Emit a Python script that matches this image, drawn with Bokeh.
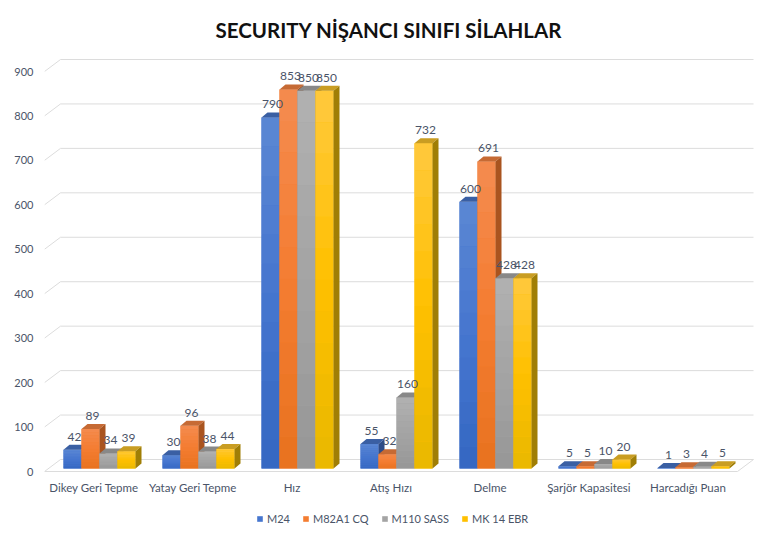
from bokeh.plotting import figure
from bokeh.models import Range1d, FixedTicker, Legend, LegendItem
from bokeh.embed import file_html
from bokeh.resources import INLINE

# veriler
categories = ["Dikey Geri Tepme", "Yatay Geri Tepme", "Hız", "Atış Hızı",
              "Delme", "Şarjör Kapasitesi", "Harcadığı Puan"]
series_names = ["M24", "M82A1 CQ", "M110 SASS", "MK 14 EBR"]
m24 = [42, 30, 790, 55, 600, 5, 1]
m82a1_cq = [89, 96, 853, 32, 691, 5, 3]
m110_sass = [34, 38, 850, 160, 428, 10, 4]
mk14_ebr = [39, 44, 850, 732, 428, 20, 5]
y_ticks = [0, 100, 200, 300, 400, 500, 600, 700, 800, 900]

series = [m24, m82a1_cq, m110_sass, mk14_ebr]

# renkler: on yuz gradyani (ust, orta, alt), ust yuz, yan yuz
grad_top = ["#5b87d3", "#f48b50", "#b1b1b1", "#ffc93e"]
grad_mid = ["#4676cf", "#f47d31", "#a4a4a4", "#ffc000"]
grad_bot = ["#3467c2", "#e8721f", "#979797", "#e9b800"]
top_colors = ["#3a5fa3", "#c66a34", "#888888", "#c99d22"]
side_colors = ["#2e4c88", "#a9541f", "#777777", "#a07e05"]
text_color = "#4a5468"
grid_color = "#dcdcdc"

# 3B geometri (x: kategori birimi, y: deger birimi)
BW = 18 / 99.0          # cubuk genisligi
SHIFT = 5.5 / 99.0      # grup kaymasi
BASE = 6.75             # cubuk tabani
DX, DY = 6 / 99.0, 11.25      # cubuk derinligi
WX, WY = 16 / 99.0, 27.0      # duvar derinligi
X0, X1 = -0.5, len(categories) - 0.5
N_STRIPS = 12


def hex_rgb(h):
    return [int(h[i:i + 2], 16) for i in (1, 3, 5)]


def mix(c1, c2, t):
    a, b = hex_rgb(c1), hex_rgb(c2)
    return "#%02x%02x%02x" % tuple(round(x + (y - x) * t) for x, y in zip(a, b))


def grad(j, t):
    # t: 0 alt, 1 ust
    if t < 0.5:
        return mix(grad_bot[j], grad_mid[j], t / 0.5)
    return mix(grad_mid[j], grad_top[j], (t - 0.5) / 0.5)


p = figure(width=768, height=527, output_backend="svg", toolbar_location=None,
           x_range=Range1d(X0, X0 + 713 / 99.0), y_range=Range1d(-126, 940.5),
           min_border_left=44, min_border_right=11, min_border_top=53,
           min_border_bottom=0)
p.outline_line_color = None
p.xgrid.visible = False
p.ygrid.visible = False
p.xaxis.visible = False
p.background_fill_color = "white"
p.border_fill_color = "white"

p.title.text = "SECURITY NİŞANCI SINIFI SİLAHLAR"
p.title.align = "left"
p.title.offset = 171
p.title.text_font = "Lato"
p.title.text_font_size = "20.5px"
p.title.text_font_style = "bold"
p.title.text_color = "#111111"
p.title.standoff = 24

# izgara: on capraz + arka duvar
for v in y_ticks:
    p.line([X0, X0 + WX, X1 + WX], [v, v + WY, v + WY], line_color=grid_color, line_width=1)
p.line([X0, X1], [0, 0], line_color=grid_color, line_width=1)
p.line([X1, X1 + WX], [0, WY], line_color=grid_color, line_width=1)

legend_items = []
for j, vals in enumerate(series):
    xc = [k + SHIFT + (j - 1.5) * BW for k in range(len(categories))]
    left = [x - BW / 2 for x in xc]
    right = [x + BW / 2 for x in xc]
    tops = [BASE + v for v in vals]
    r = p.quad(left=left, right=right, bottom=BASE, top=tops,
               fill_color=grad_mid[j], line_color=None)
    legend_items.append(LegendItem(label=series_names[j], renderers=[r]))

    # on yuz gradyani: yatay seritler
    sl, sr, sb, st, sc = [], [], [], [], []
    for l, rr, t in zip(left, right, tops):
        h = (t - BASE) / N_STRIPS
        for i in range(N_STRIPS):
            sl.append(l)
            sr.append(rr)
            sb.append(BASE + i * h)
            st.append(BASE + (i + 1) * h)
            sc.append(grad(j, (i + 0.5) / N_STRIPS))
    p.quad(left=sl, right=sr, bottom=sb, top=st, fill_color=sc, line_color=None)

    top_xs = [[l, rr, rr + DX, l + DX] for l, rr in zip(left, right)]
    top_ys = [[t, t, t + DY, t + DY] for t in tops]
    p.patches(top_xs, top_ys, fill_color=top_colors[j], line_color=None)
    side_xs = [[rr, rr + DX, rr + DX, rr] for rr in right]
    side_ys = [[BASE, BASE + DY, t + DY, t] for t in tops]
    p.patches(side_xs, side_ys, fill_color=side_colors[j], line_color=None)

# deger etiketleri
for j, vals in enumerate(series):
    xc = [k + SHIFT + (j - 1.5) * BW + DX / 3 for k in range(len(categories))]
    p.text(x=xc, y=[BASE + v + DY + 18 for v in vals], text=[str(v) for v in vals],
           text_align="center", text_baseline="middle", text_font_size="12px",
           text_color=text_color, text_font={"value": "Lato"})

# kategori etiketleri
p.text(x=list(range(len(categories))), y=[-36] * len(categories), text=categories,
       text_align="center", text_baseline="middle", text_font_size="11.5px",
       text_color=text_color, text_font={"value": "Lato"})

p.yaxis.ticker = FixedTicker(ticks=y_ticks)
p.yaxis.axis_line_color = None
p.yaxis.major_tick_line_color = None
p.yaxis.major_tick_out = 0
p.yaxis.minor_tick_line_color = None
p.yaxis.major_label_standoff = 11
p.yaxis.major_label_text_font = "Lato"
p.yaxis.major_label_text_font_size = "11px"
p.yaxis.major_label_text_color = text_color

legend = Legend(items=legend_items, orientation="horizontal", location=(212, 2),
                margin=0, padding=4, spacing=12, label_standoff=4,
                glyph_width=7, glyph_height=7, border_line_color=None,
                background_fill_alpha=0,
                label_text_font="Lato", label_text_font_size="11px",
                label_text_color=text_color)
p.add_layout(legend, "center")

open("out.html", "w").write(file_html(p, INLINE))
